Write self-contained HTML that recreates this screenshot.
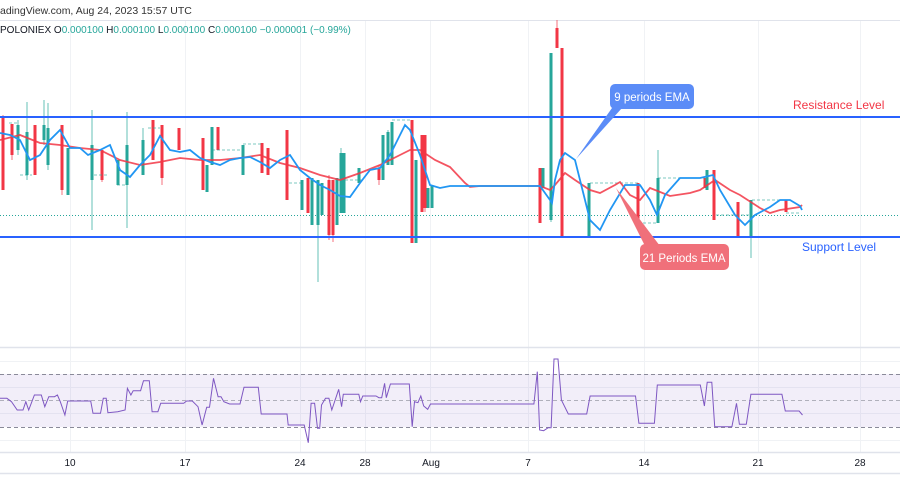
<!DOCTYPE html>
<html><head><meta charset="utf-8"><style>
html,body{margin:0;padding:0;background:#fff;width:900px;height:500px;overflow:hidden;font-family:"Liberation Sans",sans-serif}
svg{display:block}
</style></head><body>
<svg id="s" width="900" height="500" xmlns="http://www.w3.org/2000/svg">
<rect width="900" height="500" fill="#fff"/>
<g stroke="#f0f2f5" stroke-width="1">
<line x1="70.5" y1="21" x2="70.5" y2="452"/><line x1="185.5" y1="21" x2="185.5" y2="452"/><line x1="300.5" y1="21" x2="300.5" y2="452"/><line x1="365.5" y1="21" x2="365.5" y2="452"/><line x1="430.5" y1="21" x2="430.5" y2="452"/><line x1="528.5" y1="21" x2="528.5" y2="452"/><line x1="644.5" y1="21" x2="644.5" y2="452"/><line x1="758.5" y1="21" x2="758.5" y2="452"/><line x1="860.5" y1="21" x2="860.5" y2="452"/>
<line x1="0" y1="361.5" x2="900" y2="361.5"/><line x1="0" y1="387.5" x2="900" y2="387.5"/><line x1="0" y1="413.5" x2="900" y2="413.5"/><line x1="0" y1="440.5" x2="900" y2="440.5"/>
</g>
<line x1="0" y1="20.5" x2="900" y2="20.5" stroke="#e0e3eb"/>
<line x1="0" y1="347.5" x2="900" y2="347.5" stroke="#e0e3eb" stroke-width="1.5"/>
<line x1="0" y1="452.5" x2="900" y2="452.5" stroke="#e0e3eb" stroke-width="1.5"/>
<line x1="0" y1="473.5" x2="900" y2="473.5" stroke="#e0e3eb" stroke-width="1.5"/>
<rect x="0" y="374" width="900" height="53" fill="#7e57c2" fill-opacity="0.1"/>
<g stroke="#8a8a99" stroke-dasharray="4,3" stroke-width="1">
<line x1="0" y1="374.5" x2="900" y2="374.5"/><line x1="0" y1="400.5" x2="900" y2="400.5" stroke="#b0b0bb"/><line x1="0" y1="427.5" x2="900" y2="427.5"/>
</g>
<line x1="0" y1="215.5" x2="900" y2="215.5" stroke="#26a69a" stroke-dasharray="1,2" stroke-width="1"/>
<g id="cd"></g>
<line x1="0" y1="117" x2="900" y2="117" stroke="#2962ff" stroke-width="2"/>
<line x1="0" y1="237" x2="900" y2="237" stroke="#2962ff" stroke-width="2"/>
<polyline id="red" fill="none" stroke="#f23645" stroke-width="1.8" stroke-opacity="0.85"/>
<polyline id="blue" fill="none" stroke="#2196f3" stroke-width="1.8"/>
<polyline id="rsi" fill="none" stroke="#7e57c2" stroke-width="1"/>
<path d="M576,159 L612,108 L622,108 Z" fill="#5b8cf7"/>
<rect x="610" y="84" width="84" height="25" rx="5" fill="#5b8cf7"/>
<text x="652" y="101" fill="#fff" font-size="11.5" text-anchor="middle">9 periods EMA</text>
<path d="M616,188 L645,246 L660,246 Z" fill="#f0707a"/>
<rect x="640" y="244" width="89" height="26" rx="5" fill="#f0707a"/>
<text x="684" y="262" fill="#fff" font-size="11.5" text-anchor="middle">21 Periods EMA</text>
<text x="793" y="109" fill="#f23645" font-size="12">Resistance Level</text>
<text x="802" y="251" fill="#2962ff" font-size="12">Support Level</text>
<text x="0" y="14" fill="#333" font-size="10.5">adingView.com, Aug 24, 2023 15:57 UTC</text>
<text x="0" y="33" font-size="10" fill="#131722">POLONIEX  O<tspan fill="#26a69a">0.000100</tspan>  H<tspan fill="#26a69a">0.000100</tspan>  L<tspan fill="#26a69a">0.000100</tspan>  C<tspan fill="#26a69a">0.000100</tspan>  <tspan fill="#26a69a">−0.000001 (−0.99%)</tspan></text>
<g font-size="10" fill="#131722" text-anchor="middle">
<text x="70" y="466">10</text><text x="185" y="466">17</text><text x="300" y="466">24</text><text x="365" y="466">28</text><text x="431" y="466">Aug</text><text x="528" y="466">7</text><text x="644" y="466">14</text><text x="758" y="466">21</text><text x="860" y="466">28</text>
</g>
</svg>
<script>
const B=[[0,133],[10,135],[20,140],[30,160],[40,155],[50,140],[60,130],[70,148],[80,148],[88,155],[100,150],[110,145],[120,170],[130,177],[140,165],[150,155],[160,136],[170,150],[180,152],[190,150],[200,158],[210,162],[220,165],[230,160],[240,158],[250,157],[260,162],[270,168],[280,160],[290,155],[300,170],[310,178],[320,185],[330,190],[340,196],[350,197],[360,183],[370,170],[380,168],[390,155],[400,135],[405,125],[410,130],[420,155],[430,185],[440,188],[450,186],[540,186],[550,200],[552,203],[555,180],[560,160],[565,153],[575,160],[590,220],[600,230],[610,210],[625,185],[640,185],[650,200],[657,215],[665,195],[680,178],[700,178],[713,175],[720,190],[735,215],[745,225],[755,215],[770,207],[780,200],[790,200],[800,206],[802,210]];
const R=[[0,140],[20,135],[40,143],[60,145],[80,148],[100,150],[120,160],[140,165],[160,162],[180,158],[200,160],[220,160],[240,158],[260,155],[280,163],[300,168],[320,175],[340,180],[360,173],[380,165],[400,155],[410,150],[420,150],[435,160],[450,167],[465,183],[470,187],[480,186],[540,186],[550,190],[555,185],[565,173],[575,180],[590,190],[600,193],[615,185],[620,182],[630,195],[640,200],[650,188],[670,196],[690,193],[700,190],[715,180],[730,190],[740,195],[760,208],[770,213],[780,210],[800,207],[802,205]];
const Q=[[0,205],[12,205],[20,215],[30,240],[40,240],[45,215],[50,240],[60,195],[72,195],[78,230],[85,200],[95,200],[100,195],[105,215],[113,255],[118,213],[158,213],[162,250],[175,250],[180,205],[185,205],[188,248],[205,245],[218,240],[222,175],[228,195],[232,182],[245,182],[250,152],[260,152],[265,245],[275,245],[280,220],[320,220],[325,213],[335,213],[345,230],[352,285],[360,232],[365,232],[372,145],[380,200],[385,200],[390,215],[400,222],[418,222],[425,172],[450,172],[455,252],[500,252],[502,285],[530,285],[537,338],[542,220],[548,220],[553,295],[557,295],[560,225],[567,205],[573,205],[578,240],[590,178],[595,230],[598,193],[625,193],[628,215],[632,198],[655,198],[660,203],[665,203],[670,160],[673,203],[680,162],[713,162],[718,290],[722,215],[728,218],[733,198],[738,228],[745,238],[750,222],[930,222],[936,125],[940,300],[947,302],[955,293],[960,293],[965,87],[972,87],[978,210],[990,252],[1022,252],[1028,198],[1107,198],[1113,280],[1140,280],[1145,165],[1220,165],[1227,228],[1232,157],[1240,157],[1245,290],[1275,290],[1283,220],[1288,283],[1300,283],[1308,193],[1362,193],[1368,243],[1392,243],[1398,255]];
document.getElementById('blue').setAttribute('points',B.map(p=>p.join(',')).join(' '));
document.getElementById('red').setAttribute('points',R.map(p=>p.join(',')).join(' '));
document.getElementById('rsi').setAttribute('points',Q.map(p=>(p[0]/1.742).toFixed(1)+','+(330+p[1]/3).toFixed(1)).join(' '));
const C=[[3,117,190,115,190,'r'],[12,124,155,124,160,'r'],[18,125,150,120,155,'g'],[27,132,175,102,180,'g'],[35,125,175,125,175,'r'],[44,125,140,100,145,'g'],[48,128,165,103,170,'g'],[62,125,190,125,195,'r'],[68,148,195,148,195,'g'],[92,145,180,110,230,'g'],[102,150,180,150,182,'r'],[118,160,185,160,185,'g'],[127,145,185,112,228,'g'],[143,140,175,128,175,'g'],[153,120,160,120,160,'r'],[162,125,178,125,185,'r'],[179,128,150,128,150,'r'],[203,138,190,138,190,'r'],[207,165,192,165,192,'g'],[212,127,165,127,165,'g'],[218,127,150,127,150,'r'],[243,145,175,145,175,'g'],[262,143,173,143,173,'r'],[268,148,175,148,175,'r'],[287,130,200,130,200,'r'],[302,180,210,180,210,'g'],[308,178,213,178,213,'r'],[312,178,225,178,225,'g'],[318,180,225,183,282,'g'],[322,183,215,183,215,'g'],[329,180,235,175,240,'r'],[333,180,235,180,242,'r'],[337,178,225,178,225,'g'],[341,153,213,148,213,'g'],[344,153,213,153,213,'g'],[359,168,183,168,183,'g'],[379,168,180,165,185,'r'],[383,135,180,135,180,'g'],[388,132,165,130,165,'g'],[392,122,165,122,165,'g'],[412,120,243,120,243,'r'],[416,160,243,160,243,'g'],[422,135,212,135,212,'r'],[425,135,208,135,212,'r'],[428,188,208,188,208,'g'],[432,185,208,185,208,'g'],[540,168,223,168,223,'r'],[543,168,188,168,188,'g'],[551,53,220,53,222,'g'],[557,28,48,20,48,'r'],[562,48,237,48,237,'r'],[589,183,237,183,237,'g'],[638,183,223,183,223,'r'],[658,178,223,150,223,'g'],[705,178,188,178,188,'r'],[707,170,190,170,190,'g'],[714,170,220,170,220,'r'],[738,202,237,202,237,'r'],[751,200,237,200,258,'g'],[786,200,212,200,212,'r']];
const col={r:'#f23645',g:'#26a69a'};
let h='';
for(const c of C){const [x,t,b,wt,wb,k]=c;h+=`<line x1="${x}" y1="${wt}" x2="${x}" y2="${wb}" stroke="${col[k]}" stroke-width="1" opacity="0.7"/><rect x="${x-1.5}" y="${t}" width="3" height="${b-t}" fill="${col[k]}"/>`;}
const D=[[9,123,18],[20,175,32],[94,175,108],[117,185,125],[148,128,160],[212,150,243],[243,144,262],[289,183,302],[340,180,362],[392,120,412],[590,183,638],[643,223,658],[658,178,705],[716,215,751],[752,200,786],[786,213,800]];
for(const d of D)h+=`<line x1="${d[0]}" y1="${d[1]}" x2="${d[2]}" y2="${d[1]}" stroke="#26a69a" stroke-dasharray="3,2" stroke-width="1" opacity="0.6"/>`;
document.getElementById('cd').innerHTML=h;
</script>
</body></html>
